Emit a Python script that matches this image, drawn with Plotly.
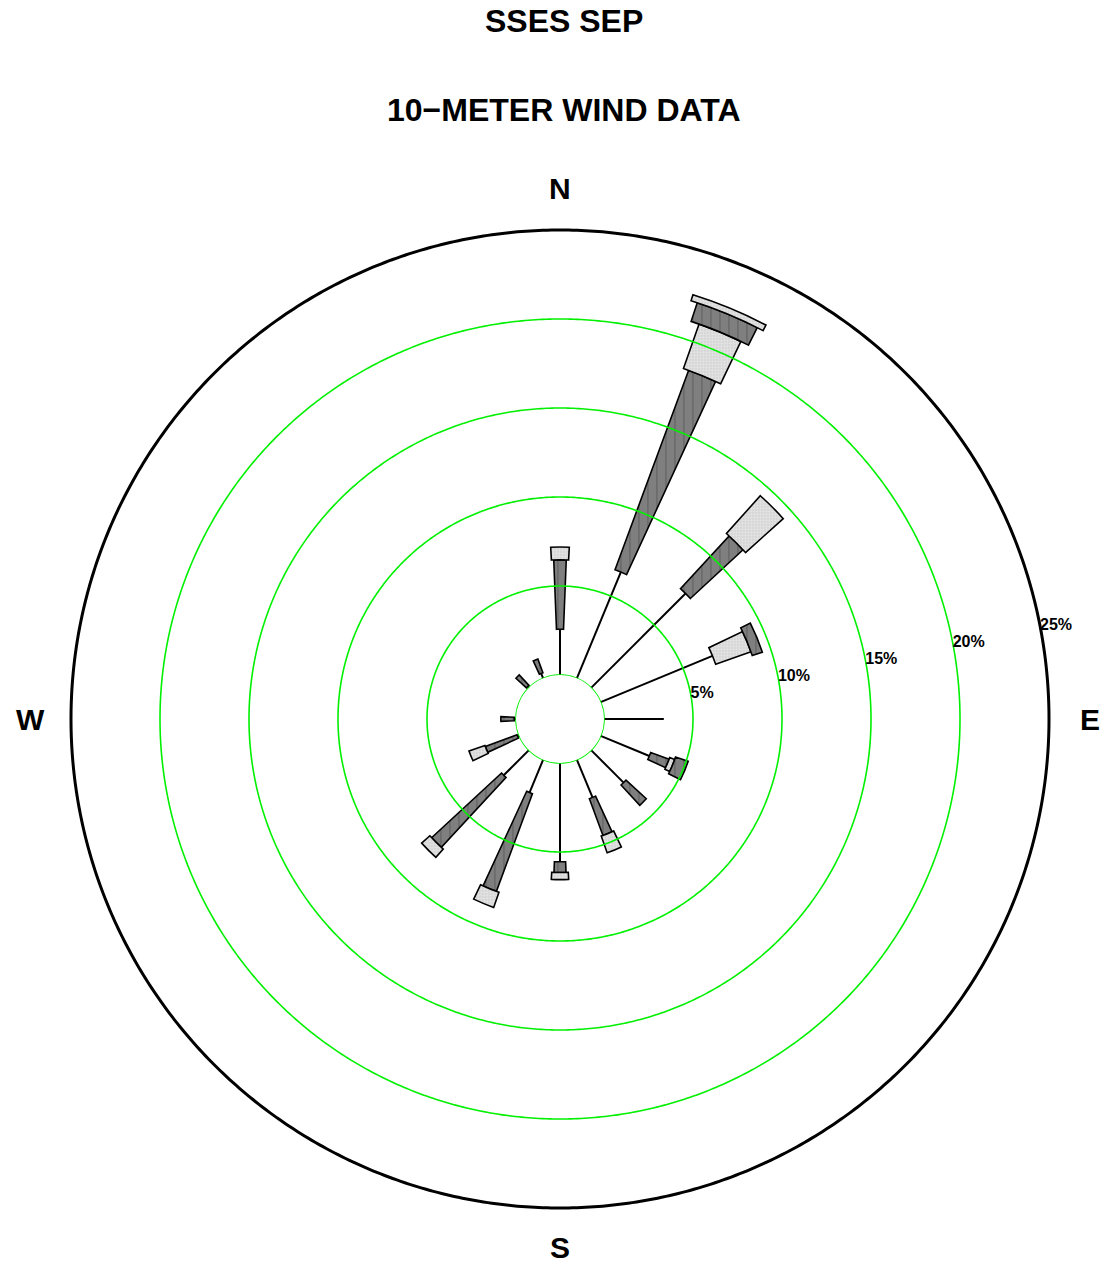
import math
import numpy as np
import plotly.graph_objects as go

# 16 compass sectors, clockwise from north
directions = ["N", "NNE", "NE", "ENE", "E", "ESE", "SE", "SSE",
              "S", "SSW", "SW", "WSW", "W", "WNW", "NW", "NNW"]
sector_deg = [22.5 * i for i in range(len(directions))]

# frequency of occurrence (%) for each wind-speed class, per sector
speed_class_1 = [2.57, 6.46, 7.50, 6.80, 3.36, 2.96, 2.58, 2.30, 5.55, 2.00, 2.00, 0.10, 0.10, 0.00, 0.10, 0.30]
speed_class_2 = [3.90, 11.95, 4.03, 0.00, 0.00, 1.10, 1.55, 2.20, 0.60, 5.85, 5.35, 1.90, 0.75, 0.00, 0.80, 0.82]
speed_class_3 = [0.72, 2.64, 2.85, 2.10, 0.00, 0.30, 0.00, 1.00, 0.40, 0.90, 0.62, 0.95, 0.00, 0.00, 0.00, 0.00]
speed_class_4 = [0.00, 1.10, 0.00, 0.60, 0.00, 0.75, 0.00, 0.00, 0.00, 0.00, 0.00, 0.00, 0.00, 0.00, 0.00, 0.00]
speed_class_5 = [0.00, 0.35, 0.00, 0.00, 0.00, 0.00, 0.00, 0.00, 0.00, 0.00, 0.00, 0.00, 0.00, 0.00, 0.00, 0.00]

ring_levels = [5, 10, 15, 20]
outer_level = 25
ring_labels = ["5%", "10%", "15%", "20%", "25%"]
label_levels = [5, 10, 15, 20, 25]
compass_labels = ["N", "E", "S", "W"]
compass_deg = [0, 90, 180, 270]

title_top = "SSES SEP"
title_sub = "10\u2212METER WIND DATA"

FONT = "Liberation Sans, Arial, sans-serif"
DARK = dict(color="#7f7f7f", fg="#3c3c3c", shape="|", size=9, solidity=0.12)
LIGHT = dict(color="#e6e6e6", fg="#a8a8a8", shape=".", size=3, solidity=0.35)

# polar geometry (pixels): centre, calm-circle radius, 25 % ring radius
W, H = 1103, 1266
CX, CY = 560, 719
R_CALM, R_OUTER = 44, 489
R_MAX = 25.2                      # a little headroom so the outer ring is not clipped
R_DOMAIN = R_CALM + (R_OUTER - R_CALM) * R_MAX / outer_level
COMPASS_PX = 530                  # distance of the compass letters from the centre

fig = go.Figure()

# lowest speed class: thin spokes from the calm circle
spoke_r, spoke_t = [], []
for d, v in zip(sector_deg, speed_class_1):
    if v > 0:
        spoke_r += [0, v, None]
        spoke_t += [d, d, None]
fig.add_trace(go.Scatterpolar(r=spoke_r, theta=spoke_t, mode="lines",
                              line=dict(color="black", width=2),
                              hoverinfo="skip", showlegend=False))

# higher speed classes: stacked wedges, widening with speed
stacked = [speed_class_2, speed_class_3, speed_class_4, speed_class_5]
widths = [4.5, 6.2, 8.5, 10.2]
styles = [DARK, LIGHT, DARK, LIGHT]
base = list(speed_class_1)
for vals, w, st in zip(stacked, widths, styles):
    th = [d for d, v in zip(sector_deg, vals) if v > 0]
    rr = [v for v in vals if v > 0]
    bb = [b for b, v in zip(base, vals) if v > 0]
    fig.add_trace(go.Barpolar(
        r=rr, theta=th, base=bb, width=w,
        marker=dict(color=st["color"],
                    line=dict(color="black", width=1.6),
                    pattern=dict(shape=st["shape"], fgcolor=st["fg"],
                                 bgcolor=st["color"], size=st["size"],
                                 solidity=st["solidity"])),
        hoverinfo="skip", showlegend=False))
    base = [b + v for b, v in zip(base, vals)]

# frequency rings and calm circle, drawn over the wedges
circle_t = np.linspace(0, 360, 721)
for lvl in [0] + ring_levels:
    fig.add_trace(go.Scatterpolar(r=[lvl] * len(circle_t), theta=circle_t,
                                  mode="lines", line=dict(color="#00f000", width=1.6),
                                  hoverinfo="skip", showlegend=False))

# outer boundary ring
fig.add_trace(go.Scatterpolar(r=[outer_level] * len(circle_t), theta=circle_t,
                              mode="lines", line=dict(color="black", width=3),
                              hoverinfo="skip", showlegend=False))

# ring labels
fig.add_trace(go.Scatterpolar(r=label_levels, theta=[79] * len(label_levels),
                              mode="text", text=ring_labels,
                              textposition="middle right",
                              textfont=dict(family=FONT, size=16, color="black", weight="bold"),
                              cliponaxis=False, hoverinfo="skip", showlegend=False))

# compass letters around the outer ring
annotations = []
for lab, deg in zip(compass_labels, compass_deg):
    a = math.radians(deg)
    px = CX + COMPASS_PX * math.sin(a)
    py = CY - COMPASS_PX * math.cos(a)
    if lab == "S":
        py -= 2
    annotations.append(dict(text=lab, x=px / W, y=1 - py / H, xref="paper", yref="paper",
                            showarrow=False, xanchor="center", yanchor="middle",
                            font=dict(family=FONT, size=30, color="black", weight="bold")))

annotations += [
    dict(text=title_top, x=0.511, y=1 - 21 / H, xref="paper", yref="paper",
         showarrow=False, xanchor="center", yanchor="middle",
         font=dict(family=FONT, size=32, color="black", weight="bold")),
    dict(text=title_sub, x=0.511, y=1 - 110 / H, xref="paper", yref="paper",
         showarrow=False, xanchor="center", yanchor="middle",
         font=dict(family=FONT, size=32, color="black", weight="bold")),
]

fig.update_layout(
    width=W, height=H,
    margin=dict(l=0, r=0, t=0, b=0),
    paper_bgcolor="white",
    showlegend=False,
    polar=dict(
        domain=dict(x=[(CX - R_DOMAIN) / W, (CX + R_DOMAIN) / W],
                    y=[(H - CY - R_DOMAIN) / H, (H - CY + R_DOMAIN) / H]),
        bgcolor="white",
        hole=R_CALM / R_DOMAIN,
        barmode="overlay",
        radialaxis=dict(range=[0, R_MAX], showgrid=False, showline=False,
                        showticklabels=False, ticks=""),
        angularaxis=dict(rotation=90, direction="clockwise",
                         showticklabels=False, ticks="",
                         showgrid=False, showline=False),
    ),
    annotations=annotations,
)

fig.write_html("out.html")
